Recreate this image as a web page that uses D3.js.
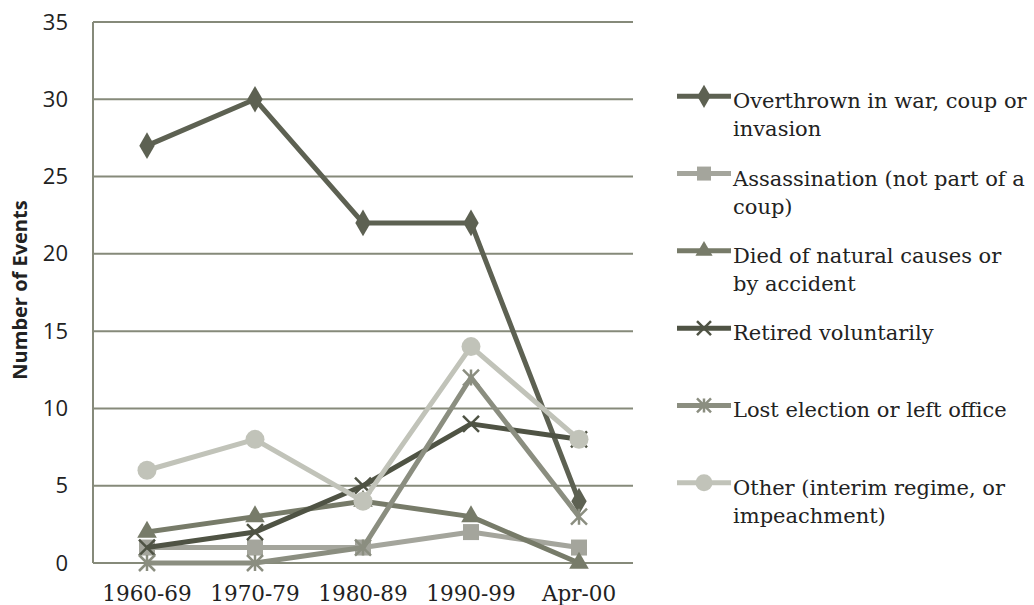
<!DOCTYPE html>
<html>
<head>
<style>
    body { margin: 0; background: #fff; }
</style>
</head>
<body>
<svg id="chart" width="1034" height="605"></svg>
<script src="https://d3js.org/d3.v7.min.js"></script>
<script>
    // chart values
    let categories = ["1960-69", "1970-79", "1980-89", "1990-99", "Apr-00"];
    let yTicks = [0, 5, 10, 15, 20, 25, 30, 35];
    let overthrown = [27, 30, 22, 22, 4];
    let assassination = [1, 1, 1, 2, 1];
    let diedNatural = [2, 3, 4, 3, 0];
    let retired = [1, 2, 5, 9, 8];
    let lostElection = [0, 0, 1, 12, 3];
    let other = [6, 8, 4, 14, 8];

    let series = [
        { name: ["Overthrown in war, coup or", "invasion"], values: overthrown, color: "#5d6152", marker: "diamond" },
        { name: ["Assassination (not part of a", "coup)"], values: assassination, color: "#a4a59c", marker: "square" },
        { name: ["Died of natural causes or", "by accident"], values: diedNatural, color: "#777b69", marker: "triangle" },
        { name: ["Retired voluntarily"], values: retired, color: "#4f5344", marker: "x" },
        { name: ["Lost election or left office"], values: lostElection, color: "#8b8e80", marker: "star" },
        { name: ["Other (interim regime, or", "impeachment)"], values: other, color: "#c1c3b9", marker: "circle" }
    ];

    let svg = d3.select("#chart");
    let plotLeft = 93, plotRight = 633, plotTop = 22, plotBottom = 563;

    let x = d3.scaleBand().domain(categories).range([plotLeft, plotRight]);
    let y = d3.scaleLinear().domain([0, 35]).range([plotBottom, plotTop]);

    // gridlines
    svg.append("g").selectAll("line").data(yTicks).enter()
        .append("line")
        .attr("x1", plotLeft).attr("x2", plotRight)
        .attr("y1", (d) => y(d)).attr("y2", (d) => y(d))
        .attr("stroke", "#868a7a").attr("stroke-width", 2);
    svg.append("line")
        .attr("x1", plotLeft).attr("x2", plotLeft)
        .attr("y1", plotTop).attr("y2", plotBottom)
        .attr("stroke", "#868a7a").attr("stroke-width", 2);

    // y axis labels
    let yAxis = d3.axisLeft(y).tickValues(yTicks).tickSize(0).tickPadding(25);
    let ya = svg.append("g").attr("transform", "translate(" + plotLeft + ",0)").call(yAxis);
    ya.select(".domain").remove();
    ya.selectAll("text").attr("font-family", "Open Sans").attr("font-size", 22).attr("fill", "#222");

    // x axis labels
    let xAxis = d3.axisBottom(x).tickSize(0).tickPadding(23);
    let xa = svg.append("g").attr("transform", "translate(0," + plotBottom + ")").call(xAxis);
    xa.select(".domain").remove();
    xa.selectAll("text").attr("font-family", "DejaVu Serif").attr("font-size", 21.5).attr("fill", "#222");

    svg.append("text")
        .attr("transform", "translate(27,290) rotate(-90)")
        .attr("text-anchor", "middle")
        .attr("font-family", "Open Sans").attr("font-weight", "bold").attr("font-size", 20)
        .attr("fill", "#222")
        .text("Number of Events");

    function drawMarker(g, type, color, size) {
        let s = size;
        if (type === "diamond") {
            g.append("path").attr("d", d3.symbol(d3.symbolDiamond, s * s * 0.8)()).attr("fill", color);
        } else if (type === "square") {
            g.append("rect").attr("x", -s / 2).attr("y", -s / 2).attr("width", s).attr("height", s).attr("fill", color);
        } else if (type === "triangle") {
            g.append("path").attr("d", d3.symbol(d3.symbolTriangle, s * s * 0.65)()).attr("fill", color);
        } else if (type === "circle") {
            g.append("circle").attr("r", s / 2 + 1.5).attr("fill", color);
        } else if (type === "x") {
            let h = s / 2;
            g.append("path").attr("d", `M${-h},${-h}L${h},${h}M${-h},${h}L${h},${-h}`)
                .attr("stroke", color).attr("stroke-width", 2.5);
        } else if (type === "star") {
            let h = s / 2;
            g.append("path").attr("d", `M${-h},${-h}L${h},${h}M${-h},${h}L${h},${-h}M0,${-h}L0,${h}`)
                .attr("stroke", color).attr("stroke-width", 2.5);
        }
    }

    let line = d3.line()
        .x((d, i) => x(categories[i]) + x.bandwidth() / 2)
        .y((d) => y(d));

    let plot = svg.append("g");
    for (let s of series) {
        plot.append("path")
            .attr("d", line(s.values))
            .attr("fill", "none")
            .attr("stroke", s.color)
            .attr("stroke-width", 5)
            .attr("stroke-linejoin", "round");
        plot.selectAll(null).data(s.values).enter()
            .append("g")
            .attr("transform", (d, i) => "translate(" + (x(categories[i]) + x.bandwidth() / 2) + "," + y(d) + ")")
            .each(function () { drawMarker(d3.select(this), s.marker, s.color, 16); });
    }

    // legend
    let legend = svg.append("g");
    series.forEach((s, i) => {
        let ly = y(30 - i * 5) - 3;
        let g = legend.append("g").attr("transform", "translate(0," + ly + ")");
        g.append("line").attr("x1", 677).attr("x2", 731).attr("y1", 0).attr("y2", 0)
            .attr("stroke", s.color).attr("stroke-width", 5);
        let m = g.append("g").attr("transform", "translate(704,0)");
        drawMarker(m, s.marker, s.color, 14);
        s.name.forEach((t, j) => {
            g.append("text")
                .attr("x", 733).attr("y", 12 + j * 28)
                .attr("font-family", "DejaVu Serif").attr("font-size", 21)
                .attr("fill", "#222")
                .text(t);
        });
    });
</script>
</body>
</html>
